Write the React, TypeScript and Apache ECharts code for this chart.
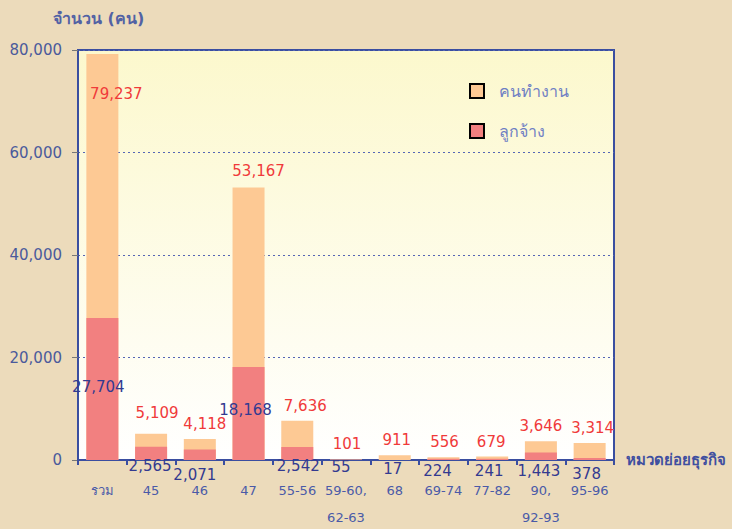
import React, { useEffect, useRef } from "react";
import * as echarts from "echarts";

const categories = ["รวม", "45", "46", "47", "55-56", "59-60,\n62-63", "68", "69-74", "77-82", "90,\n92-93", "95-96"];
const workers = [79237, 5109, 4118, 53167, 7636, 101, 911, 556, 679, 3646, 3314];
const employees = [27704, 2565, 2071, 18168, 2542, 55, 17, 224, 241, 1443, 378];
const yTicks = [0, 20000, 40000, 60000, 80000];

const workerOffsets: [number, number][] = [[14, 25], [6, -6], [5, 0], [10, -2], [8, 0], [1, 0], [2, 0], [1, 0], [-1, 0], [0, 0], [3, 0]];
const employeeOffsets: [number, number][] = [[-4, -80.5], [-1, -1.5], [-5, 7.5], [-3, -57.5], [1, -1.5], [-5, -0.5], [-2, 1.5], [-6, 3.5], [-3, 3.5], [-2, 3.5], [-3, 6.5]];

const FONT = "'DejaVu Sans', 'Noto Sans', Tahoma, sans-serif";
const fmt = (v: number) => v.toLocaleString("en-US");

export default function App() {
  const ref = useRef<HTMLDivElement>(null);
  useEffect(() => {
    if (!ref.current) return;
    const chart = echarts.init(ref.current, null, { renderer: "svg" });
    chart.setOption({
      animation: false,
      backgroundColor: "#ecdbbb",
      textStyle: { fontFamily: FONT },
      title: {
        text: "จำนวน (คน)",
        left: 48,
        top: 5,
        textStyle: { fontSize: 16, fontWeight: "bold", color: "#5262a4", fontFamily: FONT },
      },
      legend: {
        orient: "vertical",
        left: 469,
        top: 83,
        padding: 0,
        itemWidth: 14,
        itemHeight: 14,
        itemGap: 24,
        icon: "rect",
        itemStyle: { borderColor: "#000", borderWidth: 2 },
        textStyle: { fontSize: 16, color: "#6f80c4", lineHeight: 16, padding: [0, 0, 0, 10], fontFamily: FONT },
        data: ["คนทำงาน", "ลูกจ้าง"],
      },
      grid: {
        left: 78,
        right: 118,
        top: 50,
        bottom: 69,
        outerBoundsMode: "none",
        containLabel: false,
        show: true,
        borderColor: "#3a4ea0",
        borderWidth: 2,
        backgroundColor: new echarts.graphic.LinearGradient(0, 0, 0, 1, [
          { offset: 0, color: "#fcf8cd" },
          { offset: 1, color: "#ffffff" },
        ]),
      },
      xAxis: {
        type: "category",
        data: categories,
        name: "หมวดย่อยธุรกิจ",
        nameLocation: "end",
        nameGap: 12,
        nameTextStyle: { fontSize: 15, fontWeight: "bold", color: "#3f4fa0", fontFamily: FONT },
        axisLine: { lineStyle: { color: "#3a4ea0", width: 2 } },
        axisTick: { show: true, length: 5, lineStyle: { color: "#3a4ea0", width: 2 } },
        axisLabel: {
          interval: 0,
          margin: 23,
          fontSize: 13,
          color: "#4a5aa8",
          fontFamily: FONT,
          formatter: (v: string) =>
            v
              .split("\n")
              .map((s, i) => (i === 0 ? `{a|${s}}` : `{b|${s}}`))
              .join("\n"),
          rich: {
            a: { fontSize: 13, lineHeight: 15, color: "#4a5aa8", fontFamily: FONT },
            b: { fontSize: 13, lineHeight: 39, color: "#4a5aa8", fontFamily: FONT },
          },
        },
      },
      yAxis: {
        type: "value",
        min: 0,
        max: 80000,
        interval: 20000,
        axisLine: { show: true, lineStyle: { color: "#3a4ea0", width: 2 } },
        axisTick: { show: true, length: 6, lineStyle: { color: "#777" } },
        axisLabel: {
          fontSize: 15,
          margin: 16,
          color: "#4a5a9c",
          fontFamily: FONT,
          formatter: (v: number) => (yTicks.includes(v) ? fmt(v) : ""),
        },
        splitLine: { show: true, lineStyle: { color: "#5566b4", type: [2, 3], width: 1 } },
      },
      series: [
        {
          name: "คนทำงาน",
          type: "bar",
          barWidth: 32,
          barGap: "-100%",
          itemStyle: { color: "#fdc994" },
          data: workers.map((v, i) => ({
            value: v,
            label: {
              show: true,
              position: i === 0 ? "insideTop" : "top",
              distance: 6,
              offset: workerOffsets[i],
              formatter: fmt(v),
              color: "#f03a3a",
              fontSize: 15,
              lineHeight: 18,
              fontFamily: FONT,
            },
          })),
        },
        {
          name: "ลูกจ้าง",
          type: "bar",
          barWidth: 32,
          itemStyle: { color: "#f28080" },
          data: employees.map((v, i) => ({
            value: v,
            label: {
              show: true,
              position: "bottom",
              distance: 0,
              offset: employeeOffsets[i],
              formatter: fmt(v),
              color: "#333a90",
              fontSize: 15,
              lineHeight: 15,
              fontFamily: FONT,
            },
          })),
        },
      ],
    });
    return () => chart.dispose();
  }, []);
  return <div ref={ref} style={{ position: "absolute", left: 0, top: 0, width: 732, height: 529 }} />;
}
